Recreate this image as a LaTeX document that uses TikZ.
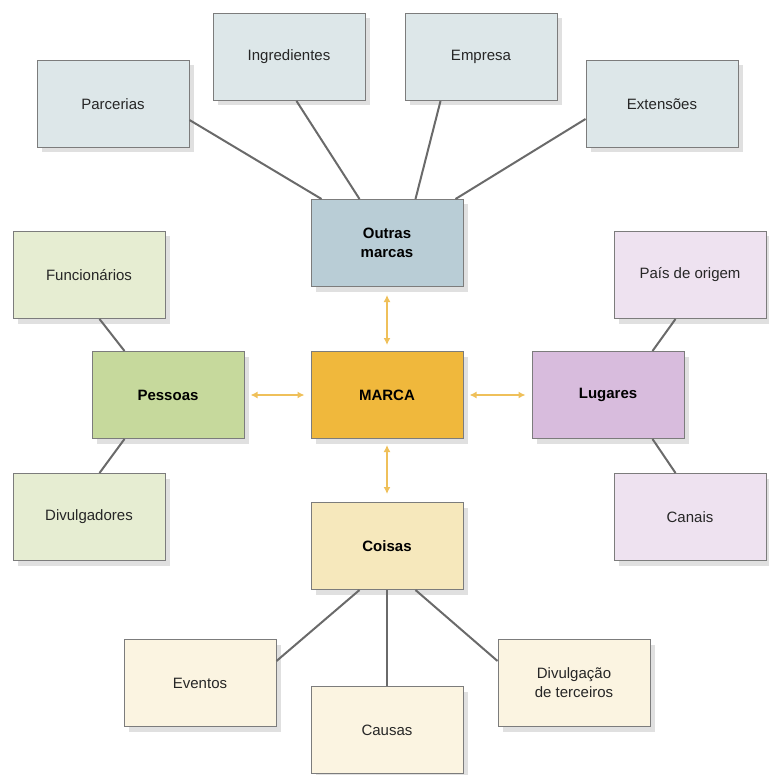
\documentclass[tikz,border=0pt]{standalone}
\usepackage{fontspec}
\setmainfont{Liberation Sans}
\usetikzlibrary{arrows.meta,calc}
\definecolor{blueD}{HTML}{B9CDD6}
\definecolor{blueL}{HTML}{DDE7E9}
\definecolor{greenD}{HTML}{C6D99C}
\definecolor{greenL}{HTML}{E6EDD2}
\definecolor{gold}{HTML}{F0B83C}
\definecolor{purpD}{HTML}{D8BCDD}
\definecolor{purpL}{HTML}{EEE2F0}
\definecolor{sandD}{HTML}{F6E8BC}
\definecolor{sandL}{HTML}{FBF4E1}
\definecolor{edge}{HTML}{7C7C7C}
\definecolor{linkc}{HTML}{6A6A6A}
\definecolor{arrowc}{HTML}{EFC05A}
\tikzset{
  box/.style={draw=edge, line width=1pt, minimum width=152pt, minimum height=87pt,
    inner sep=2pt, align=center, font=\fontsize{15}{19}\selectfont, text=black!85},
  main/.style={box, font=\fontsize{15}{19}\selectfont\bfseries, text=black},
  link/.style={draw=linkc, line width=2pt},
  dbl/.style={draw=arrowc, line width=2pt, {Latex[length=7pt,width=7pt]}-{Latex[length=7pt,width=7pt]}}
}
\begin{document}
\begin{tikzpicture}[x=1pt,y=-1pt]
\useasboundingbox (0,0) rectangle (768,775);
% positions
\coordinate (pParc) at (113,104);
\coordinate (pIngr) at (289,57);
\coordinate (pEmp) at (481,57);
\coordinate (pExt) at (662,104);
\coordinate (pOut) at (387,243);
\coordinate (pFun) at (89,275);
\coordinate (pPes) at (168,395);
\coordinate (pMar) at (387,395);
\coordinate (pLug) at (608,395);
\coordinate (pPai) at (690,275);
\coordinate (pDiv) at (89,517);
\coordinate (pCan) at (690,517);
\coordinate (pCoi) at (387,546);
\coordinate (pEve) at (200,683);
\coordinate (pCau) at (387,730);
\coordinate (pDvt) at (574,683);
% shadows
\foreach \p in {pParc,pIngr,pEmp,pExt,pOut,pFun,pPes,pMar,pLug,pPai,pDiv,pCan,pCoi,pEve,pCau,pDvt}{
  \fill[black!12] ($(\p)+(-71,-38.5)$) rectangle ($(\p)+(81,48.5)$);
}
\node[box, fill=blueL] (parc) at (pParc) {Parcerias};
\node[box, fill=blueL] (ingr) at (pIngr) {Ingredientes};
\node[box, fill=blueL] (emp) at (pEmp) {Empresa};
\node[box, fill=blueL] (ext) at (pExt) {Extensões};
\node[main, fill=blueD] (out) at (pOut) {Outras\\marcas};
\node[box, fill=greenL] (fun) at (pFun) {Funcionários};
\node[main, fill=greenD] (pes) at (pPes) {Pessoas};
\node[main, fill=gold] (mar) at (pMar) {MARCA};
\node[main, fill=purpD] (lug) at (pLug) {Lugares};
\node[box, fill=purpL] (pai) at (pPai) {País de origem};
\node[box, fill=greenL] (div) at (pDiv) {Divulgadores};
\node[box, fill=purpL] (can) at (pCan) {Canais};
\node[main, fill=sandD] (coi) at (pCoi) {Coisas};
\node[box, fill=sandL] (eve) at (pEve) {Eventos};
\node[box, fill=sandL] (cau) at (pCau) {Causas};
\node[box, fill=sandL] (dvt) at (pDvt) {Divulgação\\de terceiros};
% links
\draw[link] ([yshift=-16pt]parc.east) -- ([xshift=11pt]out.north west);
\draw[link] ([xshift=84pt]ingr.south west) -- ([xshift=49pt]out.north west);
\draw[link] ([xshift=36pt]emp.south west) -- ([xshift=-48pt]out.north east);
\draw[link] ([yshift=-15pt]ext.west) -- ([xshift=-8pt]out.north east);
\draw[link] ([xshift=87pt]fun.south west) -- ([xshift=33pt]pes.north west);
\draw[link] ([xshift=87pt]div.north west) -- ([xshift=33pt]pes.south west);
\draw[link] ([xshift=62pt]pai.south west) -- ([xshift=-32pt]lug.north east);
\draw[link] ([xshift=62pt]can.north west) -- ([xshift=-32pt]lug.south east);
\draw[link] ([xshift=49pt]coi.south west) -- ([yshift=22pt]eve.east);
\draw[link] (coi.south) -- (cau.north);
\draw[link] ([xshift=-48pt]coi.south east) -- ([yshift=22pt]dvt.west);
% arrows
\draw[dbl] ([yshift=-8pt]out.south) -- ([yshift=6pt]mar.north);
\draw[dbl] ([yshift=-6pt]mar.south) -- ([yshift=8pt]coi.north);
\draw[dbl] ([xshift=6pt]pes.east) -- ([xshift=-6pt]mar.west);
\draw[dbl] ([xshift=6pt]mar.east) -- ([xshift=-6pt]lug.west);
\end{tikzpicture}
\end{document}
